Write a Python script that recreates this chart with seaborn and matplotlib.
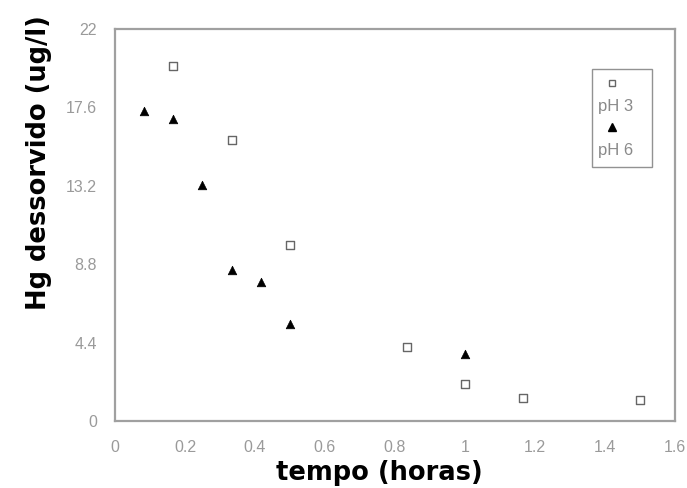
import matplotlib
matplotlib.use("Agg")
import matplotlib.pyplot as plt
from matplotlib.lines import Line2D
import seaborn as sns
import pandas as pd

# Hg desorption over time at two pH values
tempo_ph3 = [0.167, 0.333, 0.5, 0.833, 1.0, 1.167, 1.5]
hg_ph3 = [19.95, 15.75, 9.9, 4.13, 2.07, 1.29, 1.16]

tempo_ph6 = [0.083, 0.167, 0.25, 0.333, 0.417, 0.5, 1.0]
hg_ph6 = [17.4, 16.93, 13.23, 8.45, 7.78, 5.45, 3.75]

x_ticks = [0, 0.2, 0.4, 0.6, 0.8, 1.0, 1.2, 1.4, 1.6]
x_tick_labels = ["0", "0.2", "0.4", "0.6", "0.8", "1", "1.2", "1.4", "1.6"]
y_ticks = [0, 4.4, 8.8, 13.2, 17.6, 22]
y_tick_labels = ["0", "4.4", "8.8", "13.2", "17.6", "22"]

df3 = pd.DataFrame({"tempo": tempo_ph3, "hg": hg_ph3})
df6 = pd.DataFrame({"tempo": tempo_ph6, "hg": hg_ph6})

sns.set_style("white")
plt.rcParams["font.family"] = ["Liberation Sans", "DejaVu Sans"]

fig = plt.figure(figsize=(6.87, 4.88), dpi=100)
ax = fig.add_axes([0.1674, 0.1373, 0.8151, 0.8033])

grey = "#8a8a8a"
sns.scatterplot(data=df3, x="tempo", y="hg", marker="s", s=34,
                facecolor="white", edgecolor="#666666", linewidth=1.0, ax=ax)
sns.scatterplot(data=df6, x="tempo", y="hg", marker="^", s=38,
                color="black", edgecolor="black", linewidth=0.5, ax=ax)

ax.set_xlim(0, 1.6)
ax.set_ylim(0, 22)
ax.set_xticks(x_ticks)
ax.set_xticklabels(x_tick_labels)
ax.set_yticks(y_ticks)
ax.set_yticklabels(y_tick_labels)
ax.tick_params(axis="both", colors=grey, labelsize=11.5, length=4, width=1.2,
               labelcolor="#9a9a9a")
ax.tick_params(axis="x", direction="inout", pad=12)
ax.tick_params(axis="y", direction="out", pad=9)

for sp in ax.spines.values():
    sp.set_visible(True)
    sp.set_color("#a0a0a0")
    sp.set_linewidth(1.6)

ax.set_xlabel("tempo (horas)", fontsize=18.5, fontweight="bold",
              family="DejaVu Sans", color="black")
ax.set_ylabel("Hg dessorvido (ug/l)", fontsize=18.5, fontweight="bold",
              family="DejaVu Sans", color="black")
ax.xaxis.set_label_coords(0.473, -0.1)
ax.yaxis.set_label_coords(-0.113, 0.66)

# Legend: marker stacked above each label
h_sq = Line2D([], [], marker="s", ls="", mfc="white", mec="#666666", ms=5, mew=1.0)
h_tr = Line2D([], [], marker="^", ls="", mfc="black", mec="black", ms=5.5)
h_blank = Line2D([], [], ls="", marker=None)
leg = ax.legend([h_sq, h_blank, h_tr, h_blank], ["", "pH 3", "", "pH 6"],
                loc="upper left", bbox_to_anchor=(0.852, 0.633, 0.107, 0.265),
                mode="expand", borderaxespad=0, frameon=True, fancybox=False,
                handlelength=1.4, handletextpad=-1.55, labelspacing=0.42,
                borderpad=0.5, fontsize=12, labelcolor="#8a8a8a")
leg.get_frame().set_edgecolor("#777777")
leg.get_frame().set_linewidth(1.0)

fig.savefig("out.png", dpi=100)
